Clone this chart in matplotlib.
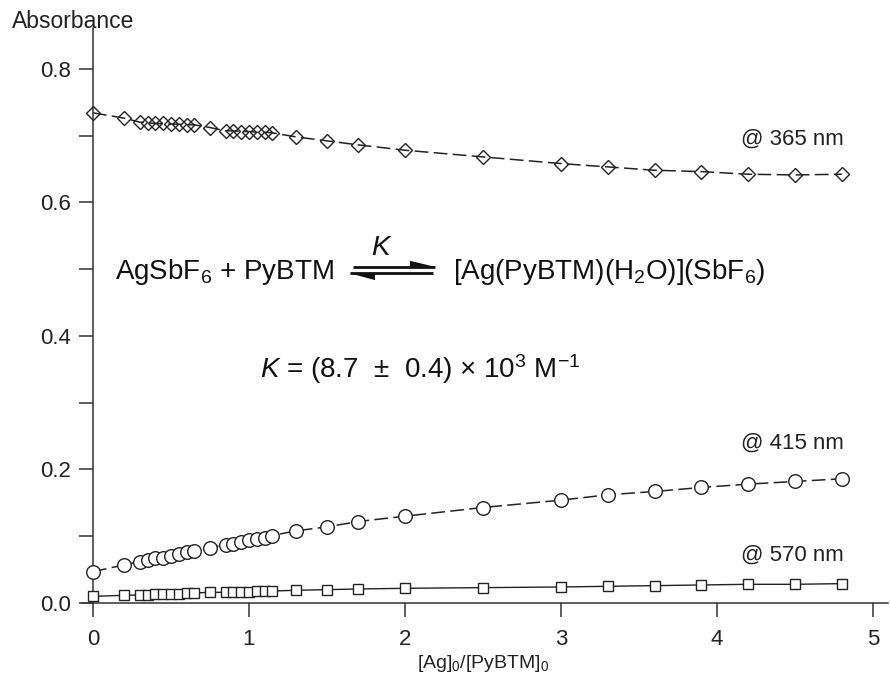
import matplotlib
matplotlib.use("Agg")
import matplotlib.pyplot as plt
from matplotlib.patches import Polygon
from matplotlib.ticker import MultipleLocator

plt.rcParams['font.family'] = ['Liberation Sans', 'DejaVu Sans']
plt.rcParams['mathtext.fontset'] = 'custom'
plt.rcParams['mathtext.rm'] = 'Liberation Sans'
plt.rcParams['mathtext.it'] = 'Liberation Sans:italic'
plt.rcParams['mathtext.default'] = 'regular'

# [Ag]0/[PyBTM]0 ratios (same for all three wavelengths)
ratio = [0, 0.2, 0.3, 0.35, 0.4, 0.45, 0.5, 0.55, 0.6, 0.65, 0.75, 0.85, 0.9,
         0.95, 1.0, 1.05, 1.1, 1.15, 1.3, 1.5, 1.7, 2.0, 2.5, 3.0, 3.3, 3.6,
         3.9, 4.2, 4.5, 4.8]

abs_365 = [0.734, 0.726, 0.720, 0.719, 0.718, 0.718, 0.717, 0.717, 0.716, 0.716,
           0.712, 0.707, 0.707, 0.706, 0.706, 0.705, 0.705, 0.704, 0.698, 0.692,
           0.686, 0.678, 0.668, 0.658, 0.653, 0.648, 0.646, 0.642, 0.641, 0.642]

abs_415 = [0.047, 0.057, 0.062, 0.064, 0.067, 0.068, 0.071, 0.073, 0.076, 0.078,
           0.083, 0.087, 0.089, 0.092, 0.094, 0.096, 0.098, 0.101, 0.108, 0.114,
           0.122, 0.130, 0.143, 0.154, 0.162, 0.167, 0.173, 0.178, 0.182, 0.186]

abs_570 = [0.010, 0.0115, 0.012, 0.0125, 0.013, 0.0135, 0.014, 0.014, 0.0145, 0.015,
           0.016, 0.016, 0.0165, 0.017, 0.017, 0.0175, 0.018, 0.018, 0.019, 0.020,
           0.021, 0.022, 0.023, 0.024, 0.025, 0.026, 0.027, 0.028, 0.028, 0.029]

wl_labels = ['@ 365 nm', '@ 415 nm', '@ 570 nm']

fig = plt.figure(figsize=(8.9, 6.78), dpi=100)
ax = fig.add_axes([82 / 890, 75 / 678, 806 / 890, 575 / 678])

col = '#222222'
dash = (0, (9, 3.5))

# fitted curves (drawn under the markers)
ax.plot(ratio, abs_365, ls=dash, color=col, lw=1.1, zorder=2)
ax.plot(ratio, abs_415, ls=dash, color=col, lw=1.1, zorder=2)
ax.plot(ratio, abs_570, ls='-', color=col, lw=1.0, zorder=2)

ax.plot(ratio, abs_365, ls='none', marker='D', ms=7.0, mfc='none', mec=col, mew=1.0, zorder=3)
ax.plot(ratio, abs_415, ls='none', marker='o', ms=9.8, mfc='white', mec=col, mew=1.0, zorder=3)
ax.plot(ratio, abs_570, ls='none', marker='s', ms=7.3, mfc='white', mec=col, mew=1.0, zorder=3)

ax.set_xlim(-0.07, 5.096)
ax.set_ylim(0, 0.861)
ax.spines['left'].set_position(('data', 0))
ax.spines['top'].set_visible(False)
ax.spines['right'].set_visible(False)
for s in ['left', 'bottom']:
    ax.spines[s].set_color('#333333')
    ax.spines[s].set_linewidth(1.1)

ax.set_xticks([0, 1, 2, 3, 4, 5])
ax.set_yticks([0.0, 0.2, 0.4, 0.6, 0.8])
ax.set_yticklabels(['0.0', '0.2', '0.4', '0.6', '0.8'])
ax.yaxis.set_minor_locator(MultipleLocator(0.1))
ax.tick_params(axis='both', which='both', direction='out', length=10, width=1.1,
               color='#333333', labelsize=16, labelcolor='#222222')
ax.tick_params(axis='x', pad=9)
ax.tick_params(axis='y', pad=6)

fig.text(12 / 890, 1 - 28 / 678, 'Absorbance', fontsize=16.5, color='#222222',
         ha='left', va='baseline')
fig.text(483 / 890, 1 - 668 / 678, '[Ag]$_0$/[PyBTM]$_0$', fontsize=14,
         color='#222222', ha='center', va='baseline')

# wavelength labels
ax.text(4.81, 0.686, wl_labels[0], fontsize=16, ha='right', va='baseline', color='#222222')
ax.text(4.81, 0.2305, wl_labels[1], fontsize=16, ha='right', va='baseline', color='#222222')
ax.text(4.81, 0.063, wl_labels[2], fontsize=16, ha='right', va='baseline', color='#222222')

# equilibrium scheme
ax.text(0.141, 0.485, 'AgSbF$_6$ + PyBTM', fontsize=20, ha='left', va='baseline', color='#111111')
ax.text(2.308, 0.485, '[Ag(PyBTM)(H$_2$O)](SbF$_6$)', fontsize=20, ha='left',
        va='baseline', color='#111111')
ax.text(1.84, 0.521, 'K', fontsize=20, style='italic', ha='center', va='baseline', color='#111111')
ax.plot([1.667, 2.192], [0.5034, 0.5034], color='#111111', lw=2.0, solid_capstyle='butt')
ax.add_patch(Polygon([[2.032, 0.5124], [2.192, 0.5034], [2.032, 0.5034]], closed=True,
                     color='#111111', lw=0))
ax.plot([1.647, 2.18], [0.4936, 0.4936], color='#111111', lw=2.0, solid_capstyle='butt')
ax.add_patch(Polygon([[1.808, 0.4835], [1.647, 0.4936], [1.808, 0.4936]], closed=True,
                     color='#111111', lw=0))

ax.text(1.07, 0.337, r'$\mathit{K}$ = (8.7  $\pm$  0.4) $\times$ 10$^3$ M$^{-1}$',
        fontsize=20, ha='left', va='baseline', color='#111111')

fig.savefig('out.png', dpi=100)
